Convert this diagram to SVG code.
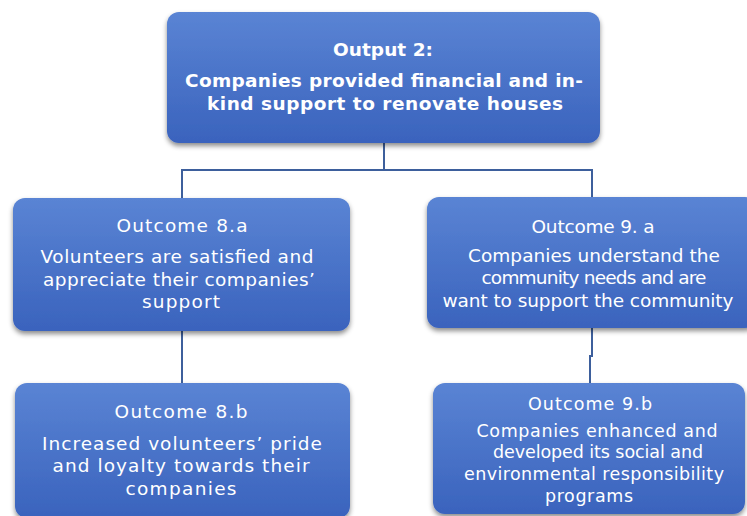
<svg xmlns="http://www.w3.org/2000/svg" width="747" height="516" viewBox="0 0 747 516">
<defs>
<linearGradient id="g" x1="0" y1="0" x2="0" y2="1">
<stop offset="0" stop-color="#5a84d4"/>
<stop offset="1" stop-color="#3a63bd"/>
</linearGradient>
<filter id="sh" x="-10%" y="-10%" width="120%" height="130%">
<feDropShadow dx="0" dy="3" stdDeviation="2.5" flood-color="#000" flood-opacity="0.45"/>
</filter>
</defs>
<style>
.box{fill:url(#g);filter:url(#sh)}
.t{font-family:"DejaVu Sans","Liberation Sans",sans-serif;fill:#fff;text-anchor:middle;font-size:18.5px}
.b{font-weight:bold}
.s{font-size:17.5px}
.c{fill:none;stroke:#3d5f9c;stroke-width:2}
</style>
<rect width="747" height="516" fill="#fff"/>
<g id="connectors">
<path class="c" d="M384 143V170H182V198"/>
<path class="c" d="M384 170H592V197"/>
<path class="c" d="M182 331V383"/>
<path class="c" d="M592 328V356H590V383"/>
</g>
<g id="output2">
<rect class="box" x="167" y="12" width="433" height="131" rx="12"/>
<text class="t b" x="383" y="56" textLength="100" lengthAdjust="spacing">Output 2:</text>
<text class="t b" x="384" y="87" textLength="398" lengthAdjust="spacing">Companies provided financial and in-</text>
<text class="t b" x="385" y="110" textLength="356" lengthAdjust="spacing">kind support to renovate houses</text>
</g>
<g id="outcome8a">
<rect class="box" x="13" y="198" width="337" height="133" rx="12"/>
<text class="t" x="182" y="232" textLength="131" lengthAdjust="spacing">Outcome 8.a</text>
<text class="t" x="177" y="263" textLength="273" lengthAdjust="spacing">Volunteers are satisfied and</text>
<text class="t" x="179" y="286" textLength="272" lengthAdjust="spacing">appreciate their companies’</text>
<text class="t" x="181" y="308" textLength="78" lengthAdjust="spacing">support</text>
</g>
<g id="outcome9a">
<rect class="box" x="427" y="197" width="330" height="131" rx="12"/>
<text class="t" x="593" y="233" textLength="123" lengthAdjust="spacing">Outcome 9. a</text>
<text class="t" x="594" y="262" textLength="252" lengthAdjust="spacing">Companies understand the</text>
<text class="t" x="594" y="284" textLength="225" lengthAdjust="spacing">community needs  and are</text>
<text class="t" x="588" y="307" textLength="291" lengthAdjust="spacing">want to support the community</text>
</g>
<g id="outcome8b">
<rect class="box" x="15" y="383" width="335" height="135" rx="12"/>
<text class="t" x="181" y="418" textLength="133" lengthAdjust="spacing">Outcome 8.b</text>
<text class="t" x="182" y="450" textLength="280" lengthAdjust="spacing">Increased volunteers’ pride</text>
<text class="t" x="181" y="472" textLength="257" lengthAdjust="spacing">and loyalty towards their</text>
<text class="t" x="181" y="495" textLength="111" lengthAdjust="spacing">companies</text>
</g>
<g id="outcome9b">
<rect class="box" x="433" y="383" width="312" height="131" rx="12"/>
<text class="t s" x="590" y="410" textLength="124" lengthAdjust="spacing">Outcome 9.b</text>
<text class="t s" x="597" y="437" textLength="241" lengthAdjust="spacing">Companies enhanced and</text>
<text class="t s" x="598" y="458" textLength="210" lengthAdjust="spacing">developed its social and</text>
<text class="t s" x="594" y="480" textLength="260" lengthAdjust="spacing">environmental responsibility</text>
<text class="t s" x="589" y="502" textLength="88" lengthAdjust="spacing">programs</text>
</g>
</svg>
